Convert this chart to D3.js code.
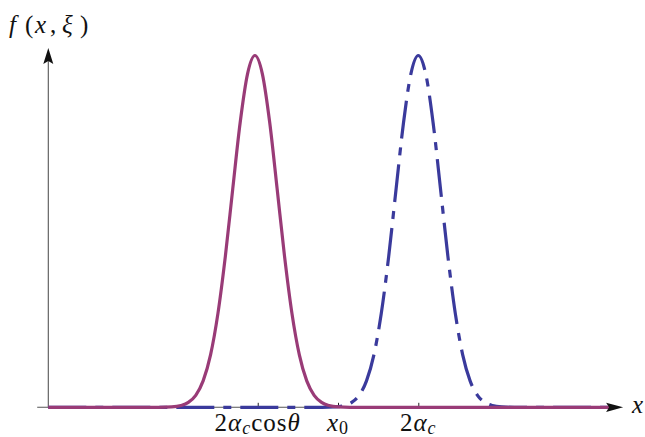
<!DOCTYPE html>
<html><head><meta charset="utf-8">
<script src="https://cdn.jsdelivr.net/npm/d3@7"></script>
<style>body{margin:0;background:#fff} svg{display:block}</style>
</head><body><svg id="c" width="645" height="437"></svg>
<script>
// Data (x in units of alpha_c, y normalised to the peak height)
const purpleX = [0, 0.600, 0.667, 0.717, 0.757, 0.797, 0.837, 0.877, 0.917, 0.957, 0.997, 1.037, 1.077, 1.117, 1.157, 1.197, 1.237, 1.277, 1.317, 1.357, 1.397, 1.437, 1.477, 1.517, 1.567, 1.630, 3.060];
const purpleY = [0, 0, 0.001, 0.005, 0.014, 0.034, 0.075, 0.149, 0.267, 0.429, 0.621, 0.809, 0.948, 1, 0.948, 0.809, 0.621, 0.429, 0.267, 0.149, 0.075, 0.034, 0.014, 0.005, 0.001, 0, 0];
const blueX = [0, 1.480, 1.550, 1.600, 1.640, 1.680, 1.720, 1.760, 1.800, 1.840, 1.880, 1.920, 1.960, 2.000, 2.040, 2.080, 2.120, 2.160, 2.200, 2.240, 2.280, 2.320, 2.360, 2.400, 2.450, 2.520, 3.060];
const blueY = [0, 0, 0.001, 0.005, 0.014, 0.034, 0.075, 0.149, 0.267, 0.429, 0.621, 0.809, 0.948, 1, 0.948, 0.809, 0.621, 0.429, 0.267, 0.149, 0.075, 0.034, 0.014, 0.005, 0.001, 0, 0];
const tickValues = [1.132, 1.566, 2.0];
const xAxisExtent = [-0.06, 3.107];
const yAxisExtent = [0, 1.021];

const svg = d3.select("#c");
const x = d3.scaleLinear().domain([0, 2]).range([48.3, 418.3]);
const y = d3.scaleLinear().domain([0, 1]).range([407.3, 55.5]);
const axisCol = "#555";
const FONT = '"Liberation Serif"';

// axis lines
svg.append("line").attr("x1", x(xAxisExtent[0])).attr("x2", x(xAxisExtent[1]) - 10)
  .attr("y1", y(0)).attr("y2", y(0)).attr("stroke", axisCol).attr("stroke-width", 1.1);
svg.append("line").attr("x1", x(0)).attr("x2", x(0))
  .attr("y1", y(yAxisExtent[0])).attr("y2", y(yAxisExtent[1]) + 10).attr("stroke", axisCol).attr("stroke-width", 1.1);

// ticks
const ax = svg.append("g").attr("transform", `translate(0,${y(0)})`)
  .call(d3.axisBottom(x).tickValues(tickValues).tickSize(-4.5).tickFormat(""));
ax.select(".domain").remove();
ax.selectAll(".tick line").attr("stroke", "#222").attr("stroke-width", 1);

const line = d3.line().x(d => x(d[0])).y(d => y(d[1])).curve(d3.curveMonotoneX);

// blue dash-dot curve (drawn under purple)
svg.append("path").datum(d3.zip(blueX, blueY)).attr("d", line)
  .attr("fill", "none").attr("stroke", "#3a3a9c").attr("stroke-width", 3.2)
  .attr("stroke-dasharray", "38,9,8,9");
// purple solid curve
svg.append("path").datum(d3.zip(purpleX, purpleY)).attr("d", line)
  .attr("fill", "none").attr("stroke", "#993b77").attr("stroke-width", 3.2)
  .attr("stroke-linejoin", "round");

// arrowheads
const xt = x(xAxisExtent[1]), y0 = y(0);
svg.append("path").attr("d", `M${xt},${y0} L${xt-17},${y0-4.6} L${xt-14},${y0} L${xt-17},${y0+4.6} Z`).attr("fill", "#111");
const yt = y(yAxisExtent[1]), x0 = x(0);
svg.append("path").attr("d", `M${x0},${yt} L${x0-5},${yt+16} L${x0},${yt+13} L${x0+5},${yt+16} Z`).attr("fill", "#111");

function txt(px, py, size) {
  return svg.append("text").attr("x", px).attr("y", py)
    .style("font-family", FONT).style("font-size", size + "px").style("fill", "#111");
}
function ts(t, s, opts) {
  const e = t.append("tspan").text(s);
  if (opts && opts.it) e.style("font-style", "italic");
  if (opts && opts.size) e.style("font-size", opts.size + "px");
  if (opts && opts.dy) e.attr("dy", opts.dy);
  if (opts && opts.x != null) e.attr("x", opts.x);
  return e;
}

// axis title (glyphs spaced as in the reference)
const t1 = txt(7, 33, 25);
ts(t1, "f", {it: true, x: 9}); ts(t1, "(", {x: 25}); ts(t1, "x", {it: true, x: 35}); ts(t1, ",", {x: 50});
ts(t1, "ξ", {it: true, x: 62}); ts(t1, ")", {x: 80});

txt(632, 413, 25).style("font-style", "italic").text("x");

// tick labels
const labY = 431;
function lab(v) { return txt(x(v), labY, 25).attr("text-anchor", "middle").style("letter-spacing", "1px"); }
const l1 = lab(tickValues[0]);
ts(l1, "2"); ts(l1, "α", {it: true}); ts(l1, "c", {it: true, size: 18, dy: 3}); ts(l1, "cos", {dy: -3}); ts(l1, "θ", {it: true});
const l2 = lab(tickValues[1]);
ts(l2, "x", {it: true}); ts(l2, "0", {size: 18, dy: 3});
const l3 = lab(tickValues[2]);
ts(l3, "2"); ts(l3, "α", {it: true}); ts(l3, "c", {it: true, size: 18, dy: 3});
</script></body></html>
